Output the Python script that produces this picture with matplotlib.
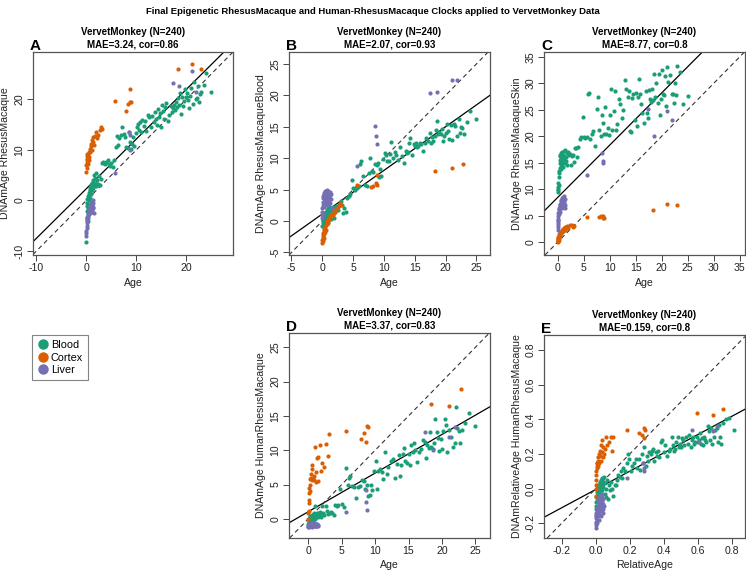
import numpy as np
import matplotlib
matplotlib.use("Agg")
import matplotlib.pyplot as plt
from matplotlib.lines import Line2D

plt.rcParams['font.family'] = ['Liberation Sans', 'DejaVu Sans']
plt.rcParams['axes.unicode_minus'] = False

# ---------------- data ----------------
tissues = ["Blood", "Cortex", "Liver"]
tissue_colors = ["#1B9E77", "#D95F02", "#7570B3"]
max_lifespan = 30.7  # RelativeAge = Age / max lifespan

blood_age = [0.0, 0.05, 0.1, 0.12, 0.15, 0.2, 0.25, 0.3,
             0.35, 0.4, 0.45, 0.5, 0.52, 0.55, 0.6, 0.65, 0.7, 0.75, 0.8, 0.85, 0.9, 0.95, 1.0, 1.05, 1.1, 1.15, 1.2, 1.3, 1.4, 1.5,
             1.6, 1.7, 1.8, 1.9, 2.0, 2.2, 2.4, 2.6, 2.8, 3.0, 3.2, 3.4,
             3.6, 3.8, 4.0, 4.3, 4.5, 4.8, 5.0, 5.3, 5.6, 5.9,
             6.1, 6.3, 6.6, 6.9, 7.2, 7.5, 7.8, 8.0, 8.3, 8.5, 8.8, 9.0, 9.2, 9.4, 9.6, 9.9,
             10.1, 10.3, 10.5, 10.8, 11.0, 11.2, 11.5, 11.8, 12.0, 12.3, 12.6, 12.9, 13.2, 13.5, 13.7, 13.9,
             14.1, 14.3, 14.5, 14.8, 15.0, 15.2, 15.4, 15.6, 15.8, 16.0, 16.3, 16.6, 16.9, 17.2, 17.4, 17.6, 17.8, 18.0,
             18.2, 18.4, 18.6, 18.8, 19.0, 19.2, 19.4, 19.6, 19.8, 20.0, 20.2, 20.4, 20.6, 20.8, 21.0, 21.3, 21.6, 21.9,
             22.1, 22.3, 22.5, 22.7, 23.0, 23.5, 24.0, 25.0]
cortex_age = [0.0, 0.0, 0.05, 0.05, 0.1, 0.1, 0.15, 0.2, 0.25, 0.3, 0.35, 0.4, 0.5, 0.55, 0.6, 0.7, 0.8, 0.9, 1.0, 1.1,
              1.2, 1.3, 1.4, 1.5, 1.7, 1.9, 2.1, 2.4, 2.7, 2.9, 3.1,
              5.7, 7.9, 8.3, 8.7, 8.8, 8.9,
              18.3, 21.1, 22.9]
liver_age = [0.0, 0.0, 0.02, 0.03, 0.05, 0.05, 0.1, 0.1, 0.15, 0.2, 0.25, 0.3, 0.35, 0.4, 0.45, 0.5, 0.55, 0.6, 0.65,
             0.7, 0.75, 0.8, 0.85, 0.9, 0.95, 1.0, 1.0, 1.05, 1.1, 1.1, 1.15, 1.2, 1.25, 1.3, 1.35, 1.4, 1.5,
             5.7, 8.6, 8.7, 8.8, 17.4, 18.6, 21.1, 21.9]

# Panel A: DNAmAge RhesusMacaque
A_blood = [-8.2, -3.5, -2.0, -1.0, -0.5, 0.3, -1.5, 0.8,
           -4.0, -2.5, -1.2, 0.0, 1.0, -0.8, 1.5, 2.0, 0.5, 2.5, 1.8, 3.0, 2.2, 1.2, 2.8, 3.5, 2.0, 2.6, 3.2, 4.0, 2.4, 5.0,
           3.0, 4.5, 3.5, 5.5, 2.8, 4.0, 3.2, 4.8, 3.0, 4.2, 7.5, 7.6,
           7.4, 7.2, 7.6, 8.0, 7.3, 6.8, 7.5, 6.6, 8.0, 10.5,
           12.8, 11.0, 12.3, 13.0, 14.5, 13.2, 12.5, 10.6, 10.4, 13.5, 11.5, 10.2, 11.2, 12.6, 10.8, 13.4,
           14.5, 15.2, 14.0, 15.6, 13.5, 16.0, 14.8, 15.8, 13.8, 17.0, 16.5, 14.5, 16.8, 15.5, 17.5, 16.2,
           15.0, 18.2, 16.6, 17.3, 14.5, 19.0, 17.8, 16.2, 18.5, 19.3, 15.8, 17.0, 18.8, 17.5, 18.3, 19.0, 18.0, 19.5,
           18.5, 20.2, 19.0, 21.3, 17.2, 20.4, 18.8, 19.6, 22.0, 20.5, 21.2, 19.8, 18.3, 20.7, 22.3, 19.2, 23.5, 20.0,
           20.3, 22.6, 19.5, 21.0, 21.4, 22.8, 25.2, 21.4]
A_cortex = [5.7, 7.0, 8.0, 8.8, 6.5, 7.5, 9.2, 8.2, 7.8, 8.5, 9.0, 7.2, 8.6, 9.5, 8.0, 10.2, 9.6, 10.8, 11.2, 10.0,
            12.0, 11.5, 12.5, 11.0, 12.8, 13.5, 12.3, 13.0, 14.0, 14.6, 14.2,
            19.7, 17.8, 19.2, 19.4, 22.1, 19.5,
            26.0, 27.0, 26.0]
A_liver = [-7.0, -6.5, -6.0, -5.5, -5.0, -4.5, -4.0, -3.8, -3.5, -3.2, -2.8, -3.0, -2.5, -3.5, -2.2, -1.8, -2.0, -2.6, -1.5,
           -1.2, -2.4, -1.0, -1.6, -0.8, -2.0, -1.3, -0.5, -1.8, -1.1, -0.3, -2.2, -0.9, -1.5, 0.0, -0.6, -1.2, -2.5,
           5.5, 13.5, 13.0, 10.0, 23.3, 22.6, 25.7, 21.5]

# Panel B: DNAmAge RhesusMacaqueBlood
B_blood = [-0.8, 0.0, -0.3, 0.7, 0.2, 0.5, -0.5, 1.0,
           0.5, -0.6, 1.0, 0.0, 1.5, 0.3, 0.8, 1.2, 0.6, 1.0, 1.8, 0.3, 1.3, 2.0, -0.2, 1.6, 0.9, 2.2, 1.4, 1.0, 0.3, 1.8,
           2.0, 1.2, 2.3, 0.5, 1.5, 2.4, 2.1, 1.8, 2.7, 3.2, 2.5, 1.3,
           2.0, 1.5, 3.6, 4.0, 4.3, 6.5, 5.2, 5.0, 5.3, 5.5,
           9.0, 9.5, 7.2, 5.7, 5.5, 7.7, 10.1, 8.0, 7.8, 9.0, 8.9, 9.2, 7.0, 8.3, 7.2, 9.8,
           10.8, 10.5, 9.6, 9.5, 10.7, 12.6, 10.0, 11.0, 10.5, 9.7, 11.8, 10.3, 9.3, 11.2, 10.8, 11.0,
           12.5, 13.2, 10.5, 12.2, 12.0, 12.5, 11.8, 12.0, 12.4, 12.3, 11.2, 12.5, 13.2, 12.8, 14.0, 12.5, 13.3, 12.8,
           13.5, 14.5, 16.0, 13.8, 14.2, 13.9, 14.6, 12.8, 13.5, 14.0, 15.5, 14.3, 13.0, 15.3, 12.9, 15.5, 15.2, 13.5,
           16.2, 14.0, 15.0, 14.8, 13.8, 15.8, 17.5, 16.2]
B_cortex = [-3.5, -3.0, -2.8, -2.2, -3.2, -2.5, -1.9, -2.0, -1.5, -2.7, -1.2, -1.8, -1.0, -0.6, -1.4, -0.5, 0.0, -0.3,
            0.3, 0.5, 0.8, 0.4, 0.9, 1.2, 1.0, 1.8, 1.5, 2.0, 2.4, 2.8, 2.5,
            5.7, 5.4, 5.6, 6.0, 7.4, 5.8,
            7.9, 8.4, 9.0]
B_liver = [0.5, 1.0, 1.5, 2.0, 2.5, 3.0, 3.6, 4.0, 1.2, 3.8, 4.3, 2.2, 4.5, 3.5, 4.8, 2.8, 4.0, 3.2, 4.6, 3.7, 4.9,
           2.5, 4.2, 3.0, 4.4, 3.6, 4.8, 2.7, 3.9, 4.5, 3.3, 4.1, 2.9, 4.7, 3.5, 4.3, 2.1,
           8.7, 15.2, 13.6, 12.3, 20.3, 20.5, 22.5, 22.4]

# Panel C: DNAmAge RhesusMacaqueSkin
C_blood = [9.5, 10.0, 10.5, 11.2, 9.8, 10.8, 12.3, 13.5,
           13.0, 14.0, 15.5, 16.5, 15.0, 16.2, 14.5, 15.8, 16.8, 13.8, 15.2, 16.0, 14.8, 17.0, 15.5, 16.5, 14.2, 15.6, 17.3, 16.3, 15.0, 17.5,
           16.0, 15.3, 16.8, 14.5, 17.0, 16.4, 16.6, 14.5, 16.3, 16.5, 15.2, 17.8,
           17.8, 16.0, 18.0, 19.5, 19.8, 23.6, 19.9, 19.6, 19.8, 28.0,
           28.1, 19.5, 20.5, 21.0, 18.2, 25.2, 27.5, 21.2, 20.0, 24.0, 22.5, 20.5, 25.5, 20.4, 21.5, 20.3,
           24.0, 28.9, 21.2, 24.7, 28.5, 21.2, 22.3, 27.0, 26.0, 23.5, 25.0, 30.7, 28.9, 27.5, 28.5, 21.0,
           20.8, 27.3, 28.0, 23.0, 28.2, 22.0, 27.5, 30.8, 28.0, 26.0, 24.4, 22.5, 28.5, 24.3, 23.5, 28.8, 27.0, 26.5,
           29.0, 26.8, 31.7, 27.5, 30.0, 26.2, 31.8, 24.0, 27.0, 32.5, 28.0, 27.7, 31.3, 25.8, 33.0, 30.2, 31.5, 28.0,
           28.0, 26.2, 30.0, 27.8, 33.3, 32.2, 26.0, 27.6]
C_cortex = [0.0, 0.2, 0.4, 0.6, 0.3, 0.8, 1.0, 0.5, 1.2, 0.9, 1.5, 1.3, 1.8, 1.6, 2.0, 1.7, 2.3, 2.0, 2.5, 2.2,
            2.6, 2.4, 2.8, 2.3, 2.6, 3.0, 2.7, 3.2, 3.3, 2.8, 3.0,
            4.7, 4.7, 4.9, 4.5, 4.9, 4.6,
            6.1, 7.2, 7.0]
C_liver = [2.4, 2.8, 3.2, 3.6, 4.0, 4.4, 5.0, 5.5, 4.2, 6.0, 5.3, 6.5, 6.2, 7.0, 5.8, 6.8, 7.3, 6.6, 7.8, 7.0, 8.0,
           6.4, 7.5, 8.3, 6.9, 7.2, 8.5, 7.6, 6.7, 8.0, 7.4, 8.7, 7.1, 7.8, 6.5, 8.2, 7.0,
           12.7, 16.8, 15.4, 15.0, 25.1, 20.0, 24.8, 23.0]

# Panel D: DNAmAge HumanRhesusMacaque
D_blood = [-0.8, -0.5, -0.3, 0.0, -0.6, 0.2, -0.2, 0.4,
           -0.4, 0.0, -0.7, 0.3, -0.2, 0.5, -0.5, 0.1, 0.6, -0.3, 0.2, 0.8, -0.1, 0.4, 1.8, 0.0, 0.5, 0.3, 0.7, 0.9, 0.2, 0.6,
           0.8, 0.5, 1.0, 0.3, 1.8, 0.9, 0.6, 1.8, 1.2, 0.7, 0.9, 1.0,
           0.8, 0.6, 2.0, 1.9, 2.0, 4.4, 2.2, 1.7, 7.4, 5.0,
           6.0, 6.2, 4.8, 4.7, 3.0, 4.7, 4.8, 5.7, 5.5, 4.4, 5.0, 3.3, 3.5, 5.0, 4.2, 7.0,
           8.4, 4.3, 6.9, 7.2, 6.8, 5.8, 9.8, 6.5, 7.5, 8.4, 8.7, 6.0, 8.0, 9.3, 6.3, 7.8,
           9.5, 10.3, 8.5, 8.2, 9.5, 7.9, 10.7, 9.8, 11.0, 10.0, 8.3, 9.8, 10.2, 11.5, 11.2, 8.8, 10.8, 10.3,
           12.6, 10.5, 10.2, 11.0, 14.5, 12.6, 11.8, 9.9, 11.6, 10.2, 12.8, 14.5, 13.7, 9.8, 13.0, 12.0, 10.5, 11.0,
           16.3, 13.3, 12.8, 11.0, 13.0, 14.0, 15.4, 13.6]
D_cortex = [0.0, 0.8, 1.2, 2.3, 2.7, 3.8, 4.5, 4.9, 4.0, 5.8, 6.0, 6.5, 5.6, 7.2, 7.8, 5.9, 6.3, 5.6, 10.5, 6.8,
            5.3, 8.8, 9.0, 5.5, 10.7, 7.0, 8.2, 7.5, 10.9, 9.1, 12.4,
            12.8, 11.6, 12.5, 11.2, 13.6, 13.4,
            16.7, 16.4, 18.9]
D_liver = [-1.2, -1.0, -1.1, -0.9, -1.2, -0.8, -1.0, -0.9, -1.1, -0.7, -1.0, -0.8, -1.1, -0.9, -0.7, -1.0, -0.8, -1.2,
           -0.9, -0.6, -1.0, -0.8, -1.1, -0.9, -0.7, -1.0, -0.8, -0.9, -1.1, -0.7, -1.0, -0.8, -0.9, -1.1, -0.7, -1.0, -0.9,
           1.0, 2.4, 4.2, 1.3, 12.7, 10.0, 12.0, 13.4]

# Panel E: DNAmRelativeAge HumanRhesusMacaque
E_blood = [-0.12, -0.08, -0.05, -0.10, -0.02, 0.0, -0.07, 0.02,
           -0.10, -0.06, -0.03, 0.0, -0.08, 0.02, -0.05, 0.01, -0.02, 0.04, -0.09, 0.03, -0.04, 0.05, 0.0, -0.06, 0.02, 0.06, -0.01, 0.04, 0.01, 0.07,
           -0.03, 0.03, -0.05, 0.0, 0.05, -0.06, 0.02, -0.01, 0.04, 0.0, -0.04, 0.02,
           0.02, 0.05, 0.08, 0.07, 0.10, 0.06, 0.12, 0.10, 0.15, 0.20,
           0.17, 0.10, 0.13, 0.15, 0.17, 0.12, 0.17, 0.11, 0.20, 0.15, 0.24, 0.13, 0.19, 0.16, 0.21, 0.20,
           0.22, 0.23, 0.16, 0.21, 0.19, 0.22, 0.18, 0.27, 0.28, 0.21, 0.25, 0.19, 0.22, 0.23, 0.30, 0.25,
           0.22, 0.23, 0.27, 0.30, 0.24, 0.26, 0.24, 0.29, 0.28, 0.25, 0.30, 0.26, 0.31, 0.24, 0.28, 0.30, 0.26, 0.27,
           0.30, 0.27, 0.28, 0.32, 0.26, 0.29, 0.25, 0.30, 0.28, 0.27, 0.36, 0.33, 0.28, 0.35, 0.26, 0.30, 0.34, 0.35,
           0.27, 0.37, 0.30, 0.26, 0.38, 0.40, 0.41, 0.34]
E_cortex = [-0.04, 0.0, 0.02, 0.05, 0.08, 0.10, 0.12, 0.13, 0.15, 0.15, 0.16, 0.13, 0.18, 0.20, 0.15, 0.22, 0.19, 0.25,
            0.16, 0.21, 0.28, 0.18, 0.24, 0.20, 0.23, 0.30, 0.25, 0.27, 0.30, 0.22, 0.30,
            0.34, 0.32, 0.31, 0.35, 0.29, 0.34,
            0.435, 0.425, 0.46]
E_liver = [-0.23, -0.21, -0.19, -0.20, -0.17, -0.15, -0.16, -0.14, -0.18, -0.12, -0.20, -0.13, -0.10, -0.16, -0.08,
           -0.14, -0.11, -0.18, -0.06, -0.13, -0.09, -0.15, -0.04, -0.12, -0.07, -0.16, -0.10, -0.05, -0.13, -0.08,
           -0.11, -0.03, -0.14, -0.09, -0.06, -0.12, -0.10,
           0.06, 0.15, 0.12, 0.10, 0.34, 0.27, 0.33, 0.36]

panel_letters = ["A", "B", "C", "D", "E"]
panel_ylabels = ["DNAmAge RhesusMacaque", "DNAmAge RhesusMacaqueBlood", "DNAmAge RhesusMacaqueSkin",
                 "DNAmAge HumanRhesusMacaque", "DNAmRelativeAge HumanRhesusMacaque"]
panel_xlabels = ["Age", "Age", "Age", "Age", "RelativeAge"]
panel_mae = ["3.24", "2.07", "8.77", "3.37", "0.159"]
panel_cor = ["0.86", "0.93", "0.8", "0.83", "0.8"]
species = "VervetMonkey"
n_samples = 240

# ---------------- layout ----------------
W, H = 746, 572
fig = plt.figure(figsize=(W / 100, H / 100), dpi=100)

def box(x0, y0, x1, y1):
    return [x0 / W, 1 - y1 / H, (x1 - x0) / W, (y1 - y0) / H]

boxes = [box(33, 52, 233, 255), box(289, 52, 490, 255), box(544, 52, 745, 255),
         box(289, 333, 490, 538), box(544, 335, 745, 538)]
xlims = [(-10.7, 29.4), (-5.4, 27.2), (-2.6, 36.0), (-2.9, 27.2), (-0.304, 0.878)]
ylims = [(-10.8, 29.4), (-5.4, 26.9), (-2.4, 35.9), (-2.8, 27.1), (-0.285, 0.887)]
ticks = [np.arange(-10, 21, 10), np.arange(-5, 26, 5), np.arange(0, 36, 5), np.arange(0, 26, 5),
         np.arange(-0.2, 0.81, 0.2)]

preds = [(A_blood, A_cortex, A_liver), (B_blood, B_cortex, B_liver), (C_blood, C_cortex, C_liver),
         (D_blood, D_cortex, D_liver), (E_blood, E_cortex, E_liver)]
ages = [blood_age, cortex_age, liver_age]

FS = 7.6
for i in range(5):
    ax = fig.add_axes(boxes[i])
    allx, ally = [], []
    for t in range(3):
        x = np.array(ages[t], dtype=float)
        if i == 4:
            x = x / max_lifespan
        y = np.array(preds[i][t], dtype=float)
        ax.scatter(x, y, s=9, color=tissue_colors[t], linewidths=0, zorder=3)
        allx.append(x)
        ally.append(y)
    allx = np.concatenate(allx)
    ally = np.concatenate(ally)
    slope, intercept = np.polyfit(allx, ally, 1)
    ax.axline((0, intercept), slope=slope, color="black", lw=0.9, zorder=2)
    ax.axline((0, 0), slope=1, color="#333333", lw=0.8, ls=(0, (4, 3)), zorder=2)
    ax.set_xlim(*xlims[i])
    ax.set_ylim(*ylims[i])
    ax.set_xticks(ticks[i])
    ax.set_yticks(ticks[i])
    if i == 4:
        lbl = ["%.1f" % v for v in ticks[i]]
        ax.set_xticklabels(lbl)
        ax.set_yticklabels(lbl)
    for lab in ax.get_yticklabels():
        lab.set_rotation(90)
        lab.set_va("center")
    ax.tick_params(labelsize=FS, length=4, width=0.7, color="#444444", pad=2, labelcolor="#222222")
    for sp in ax.spines.values():
        sp.set_color("#555555")
        sp.set_linewidth(0.9)
    ax.set_xlabel(panel_xlabels[i], fontsize=FS, labelpad=3, color="#222222")
    ax.set_ylabel(panel_ylabels[i], fontsize=FS, labelpad=3, color="#222222")
    ax.set_title("%s (N=%d)\nMAE=%s, cor=%s" % (species, n_samples, panel_mae[i], panel_cor[i]),
                 fontsize=7, fontweight="bold", pad=3, linespacing=1.35)
    bx = boxes[i]
    fig.text(bx[0] - 3 / W, bx[1] + bx[3] - 1 / H, panel_letters[i], fontsize=11, fontweight="bold",
             ha="left", va="bottom")

fig.text(0.5, 1 - 12 / H, "Final Epigenetic RhesusMacaque and Human-RhesusMacaque Clocks applied to VervetMonkey Data",
         ha="center", va="center", fontsize=6.8, fontweight="bold")

handles = [Line2D([], [], marker="o", ls="", color=c, markersize=6.5) for c in tissue_colors]
leg = fig.legend(handles, tissues, loc="upper left", bbox_to_anchor=(32 / W, 1 - 335 / H),
                 frameon=True, fancybox=False, edgecolor="#666666", fontsize=7.8,
                 handletextpad=0.1, labelspacing=0.25, borderpad=0.45, handlelength=1.2, borderaxespad=0)
leg.get_frame().set_linewidth(0.8)

fig.savefig("out.png", dpi=100)
